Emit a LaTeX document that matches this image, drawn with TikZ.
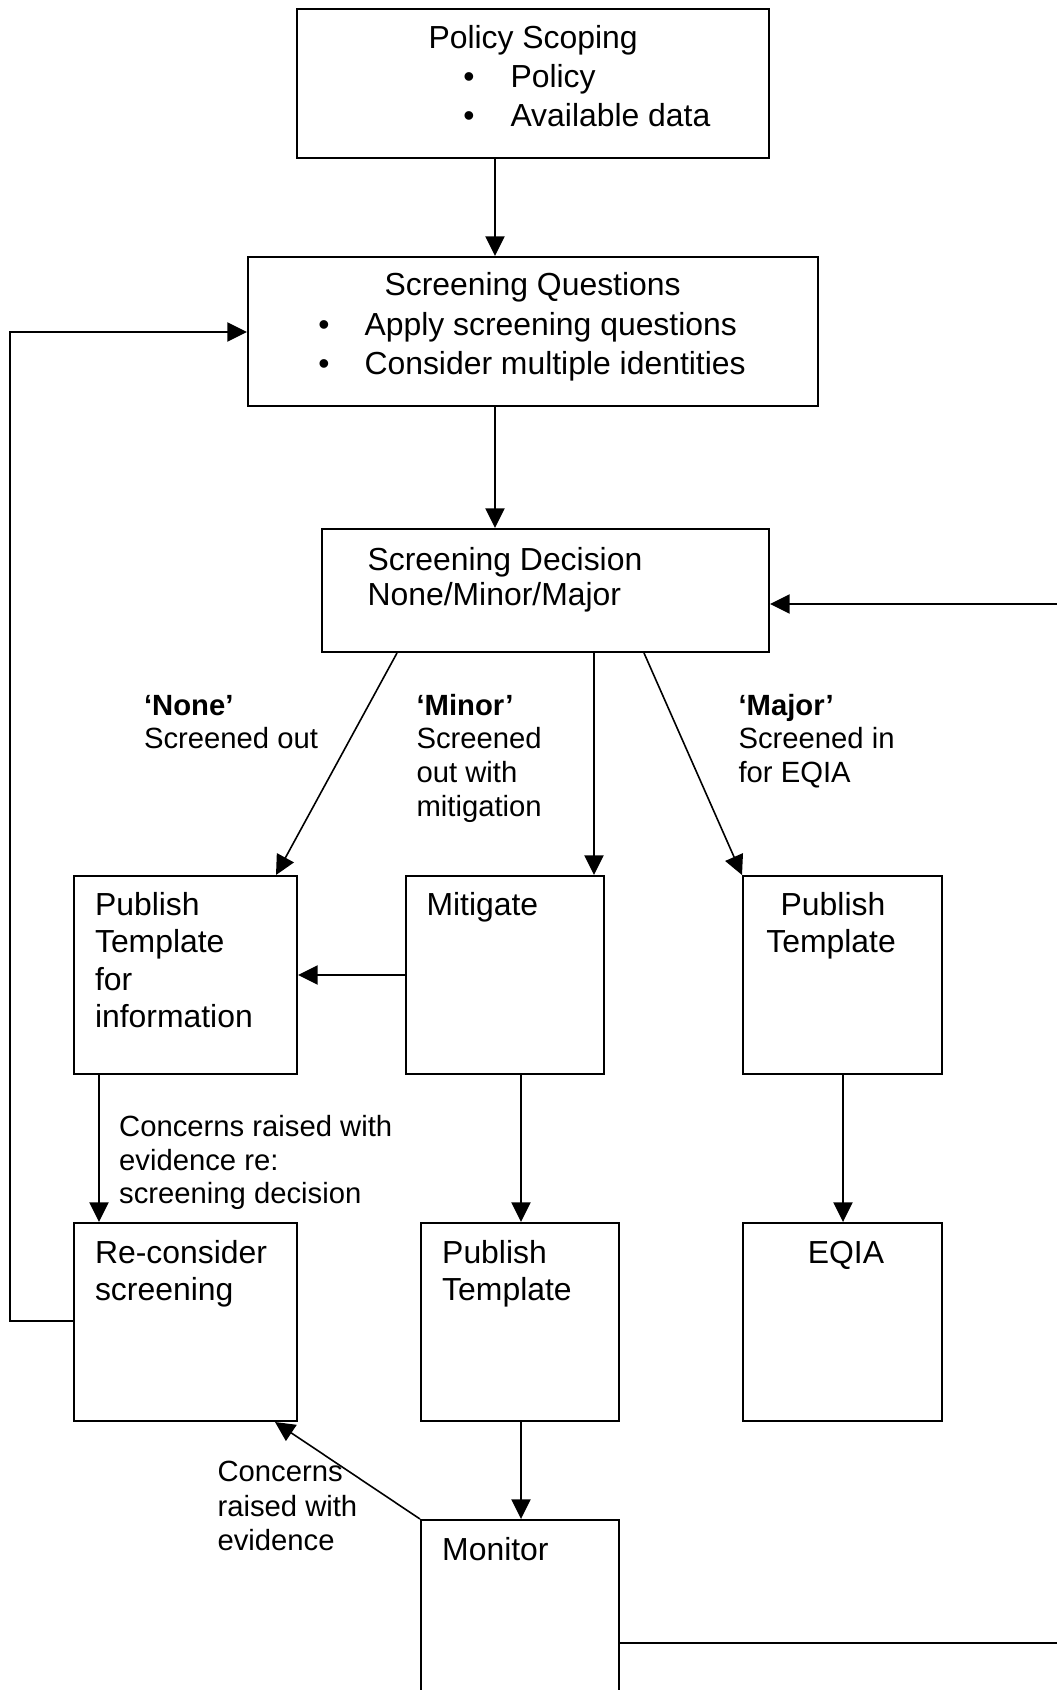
\documentclass[tikz,border=0pt]{standalone}
\usepackage{fontspec}
\setmainfont{Liberation Sans}
\usetikzlibrary{arrows.meta,fit}
\begin{document}
\begin{tikzpicture}[x=0.3762pt,y=-0.3762pt,
  box/.style={draw,line width=0.75pt,inner sep=0pt},
  conn/.style={line width=0.6pt,-{Triangle[length=7.4pt,width=7.2pt]}},
  plainline/.style={line width=0.6pt},
  bt/.style={anchor=base west,inner sep=0pt,font=\fontsize{12}{14}\selectfont},
  bc/.style={anchor=base,inner sep=0pt,font=\fontsize{12}{14}\selectfont},
  lt/.style={anchor=base west,inner sep=0pt,font=\fontsize{11}{13}\selectfont},
]
\useasboundingbox (0,0) rectangle (1057,1690);
\clip (0,0) rectangle (1057,1690);
\fill[white] (0,0) rectangle (1057,1690);

% boxes
\node[box,fit={(297,9) (769,158)}] (ps) {};
\node[box,fit={(248,257) (818,406)}] (sq) {};
\node[box,fit={(322,529) (769,652)}] (dec) {};
\node[box,fit={(74,876) (297,1074)}] (pi) {};
\node[box,fit={(406,876) (604,1074)}] (mit) {};
\node[box,fit={(743,876) (942,1074)}] (pr) {};
\node[box,fit={(74,1223) (297,1421)}] (rc) {};
\node[box,fit={(421,1223) (619,1421)}] (pm) {};
\node[box,fit={(743,1223) (942,1421)}] (eq) {};
\node[box,fit={(421,1520) (619,1730)}] (mon) {};

% helper coordinates
\coordinate (c495) at (495,0);
\coordinate (c397) at (397,0);
\coordinate (c276) at (276,0);
\coordinate (c594) at (594,0);
\coordinate (c644) at (644,0);
\coordinate (c521) at (521,0);
\coordinate (c843) at (843,0);
\coordinate (c99) at (99,0);
\coordinate (c275) at (275,0);
\coordinate (r975) at (0,975);
\coordinate (r1321) at (0,1321);
\coordinate (r332) at (0,332);
\coordinate (r1643) at (0,1643);
\coordinate (r604) at (0,604);
\coordinate (lc1) at (10,1321);
\coordinate (lc2) at (10,332);
\coordinate (rc1) at (1075,1643);
\coordinate (rc2) at (1075,604);

% connectors
\draw[conn] (c495 |- ps.south) -- (c495 |- sq.north);
\draw[conn] (c495 |- sq.south) -- (c495 |- dec.north);
\draw[conn] (c397 |- dec.south) -- (c276 |- pi.north);
\draw[conn] (c594 |- dec.south) -- (c594 |- mit.north);
\draw[conn] (c644 |- dec.south) -- (pr.north west);
\draw[conn] (mit.west |- r975) -- (pi.east |- r975);
\draw[conn] (c521 |- mit.south) -- (c521 |- pm.north);
\draw[conn] (c843 |- pr.south) -- (c843 |- eq.north);
\draw[conn] (c99 |- pi.south) -- (c99 |- rc.north);
\draw[conn] (c521 |- pm.south) -- (c521 |- mon.north);
\draw[conn] (mon.north west) -- (c275 |- rc.south);
\draw[conn] (rc.west |- r1321) -- (lc1) -- (lc2) -- (sq.west |- r332);
\draw[conn] (mon.east |- r1643) -- (rc1) -- (rc2) -- (dec.east |- r604);

% texts
\node[bt] (pst) at (428,49) {Policy Scoping};
\node[bc] (psb1) at (469,88) {\textbullet};
\node[bt] (pst1) at (510,88) {Policy};
\node[bc] (psb2) at (469,127) {\textbullet};
\node[bt] (pst2) at (510,127) {Available data};

\node[bt] (sqt) at (384,296) {Screening Questions};
\node[bc] (sqb1) at (324,336) {\textbullet};
\node[bt] (sqt1) at (364,336) {Apply screening questions};
\node[bc] (sqb2) at (324,374) {\textbullet};
\node[bt] (sqt2) at (364,374) {Consider multiple identities};

\node[bt] (dect1) at (367,570) {Screening Decision};
\node[bt] (dect2) at (367,605) {None/Minor/Major};

\node[lt] (nl1) at (143.5,715) {\textbf{‘None’}};
\node[lt] (nl2) at (143.5,748) {Screened out};
\node[lt] (ml1) at (416,715) {\textbf{‘Minor’}};
\node[lt] (ml2) at (416,748) {Screened};
\node[lt] (ml3) at (416,782) {out with};
\node[lt] (ml4) at (416,816) {mitigation};
\node[lt] (jl1) at (738,715) {\textbf{‘Major’}};
\node[lt] (jl2) at (738,748) {Screened in};
\node[lt] (jl3) at (738,782) {for EQIA};

\node[bt] (pit1) at (94.5,915) {Publish};
\node[bt] (pit2) at (94.5,952) {Template};
\node[bt] (pit3) at (94.5,990) {for};
\node[bt] (pit4) at (94.5,1027) {information};

\node[bt] (mitt) at (426,915) {Mitigate};

\node[bc] (prt1) at (833,915) {Publish};
\node[bc] (prt2) at (831,952) {Template};

\node[lt] (cl1) at (118.7,1136) {Concerns raised with};
\node[lt] (cl2) at (118.7,1170) {evidence re:};
\node[lt] (cl3) at (118.7,1203) {screening decision};

\node[bt] (rct1) at (94.5,1263) {Re-consider};
\node[bt] (rct2) at (94.5,1300) {screening};

\node[bt] (pmt1) at (441.7,1263) {Publish};
\node[bt] (pmt2) at (441.7,1300) {Template};

\node[bc] (eqt) at (846,1263) {EQIA};

\node[lt] (el1) at (217,1481) {Concerns};
\node[lt] (el2) at (217,1516) {raised with};
\node[lt] (el3) at (217,1550) {evidence};

\node[bt] (mont) at (441.7,1560) {Monitor};
\end{tikzpicture}
\end{document}
